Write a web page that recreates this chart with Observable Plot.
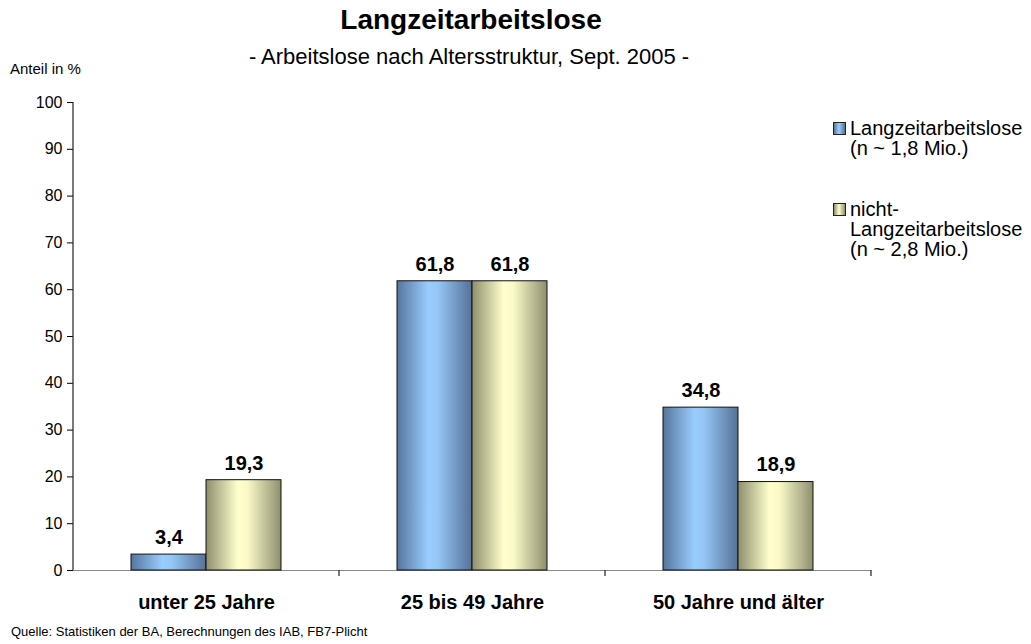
<!DOCTYPE html>
<html><head><meta charset="utf-8">
<script src="https://cdn.jsdelivr.net/npm/d3@7"></script>
<script src="https://cdn.jsdelivr.net/npm/@observablehq/plot@0.6"></script>
<style>
body{margin:0;background:#fff;font-family:"Liberation Sans",Arial,Helvetica,sans-serif;color:#000;}
#wrap{position:relative;width:1031px;height:644px;overflow:hidden;background:#fff;}
#wrap svg{position:absolute;left:0;top:0;}
.t{position:absolute;white-space:nowrap;line-height:1;}
.title{left:0;width:942px;text-align:center;top:6px;font-size:28px;font-weight:bold;}
.sub{left:0;width:938px;text-align:center;top:46px;font-size:22px;}
.ylab{left:10px;top:61px;font-size:15px;}
.cap{left:11px;top:625px;font-size:13px;}
.leg{position:absolute;left:850px;font-size:20px;line-height:20px;white-space:nowrap;}
.sw{position:absolute;width:11px;height:11px;border:1px solid #222;}
</style></head><body><div id="wrap"></div><script>
const categories = ["unter 25 Jahre", "25 bis 49 Jahre", "50 Jahre und älter"];
const seriesNames = ["Langzeitarbeitslose", "nicht-Langzeitarbeitslose"];
const valuesLang = [3.4, 61.8, 34.8];
const valuesNicht = [19.3, 61.8, 18.9];
const yTicks = [0, 10, 20, 30, 40, 50, 60, 70, 80, 90, 100];
const legendBlue = ["Langzeitarbeitslose", "(n ~ 1,8 Mio.)"];
const legendCream = ["nicht-", "Langzeitarbeitslose", "(n ~ 2,8 Mio.)"];
const titleText = "Langzeitarbeitslose";
const subtitleText = "- Arbeitslose nach Altersstruktur, Sept. 2005 -";
const yLabelText = "Anteil in %";
const captionText = "Quelle: Statistiken der BA, Berechnungen des IAB, FB7-Plicht";

const data = categories.flatMap((c, i) => [
  {cat: c, series: seriesNames[0], value: valuesLang[i]},
  {cat: c, series: seriesNames[1], value: valuesNicht[i]}
]);
const fmt = v => d3.format(".1f")(v).replace(".", ",");

const chart = Plot.plot({
  width: 1031, height: 644,
  marginLeft: 73, marginRight: 160, marginTop: 102, marginBottom: 74,
  style: {fontFamily: '"Liberation Sans", Arial, sans-serif', background: "transparent", color: "#000"},
  fx: {domain: categories, padding: 0, label: null},
  x: {domain: seriesNames, paddingInner: 0, paddingOuter: 0.76, axis: null},
  y: {domain: [0, 100], axis: null},
  color: {type: "ordinal", domain: seriesNames, range: ["url(#gBlue)", "url(#gCream)"]},
  marks: [
    Plot.axisY({ticks: yTicks, tickSize: 6, tickPadding: 5, fontSize: 16, label: null, anchor: "left"}),
    Plot.axisFx({tickSize: 0, tickPadding: 24, fontSize: 20, fontWeight: "bold", label: null, anchor: "bottom"}),
    Plot.ruleY([0], {stroke: "#8a8a8a", strokeWidth: 1.2}),
    Plot.barY(data, {fx: "cat", x: "series", y: "value", fill: "series", stroke: "#111", strokeWidth: 1}),
    Plot.text(data, {fx: "cat", x: "series", y: "value", text: d => fmt(d.value), dy: -17, fontSize: 20, fontWeight: "bold", fill: "#000"})
  ]
});

const svg = d3.select(chart);
const defs = svg.insert("defs", ":first-child");
function grad(id, stops) {
  const g = defs.append("linearGradient").attr("id", id).attr("x1", "0").attr("x2", "1").attr("y1", "0").attr("y2", "0");
  stops.forEach(([o, c]) => g.append("stop").attr("offset", o).attr("stop-color", c));
}
grad("gBlue", [[0, "#56759c"], [0.42, "#9acdff"], [0.55, "#94c5f5"], [1, "#567196"]]);
grad("gCream", [[0, "#8e8e6e"], [0.42, "#ffffcc"], [0.55, "#fafac8"], [1, "#8f8f70"]]);

const fx = chart.scale("fx"), y = chart.scale("y");
const y0 = y.apply(0), y100 = y.apply(100);
const xl = fx.apply(categories[0]);
svg.append("line").attr("x1", xl).attr("x2", xl).attr("y1", y100).attr("y2", y0).attr("stroke", "#222").attr("stroke-width", 1.2);
const bounds = categories.map(c => fx.apply(c)).concat([fx.apply(categories[categories.length - 1]) + fx.bandwidth]);
bounds.slice(1).forEach(b => {
  svg.append("line").attr("x1", b).attr("x2", b).attr("y1", y0).attr("y2", y0 + 6).attr("stroke", "#222").attr("stroke-width", 1.2);
});

const wrap = document.getElementById("wrap");
wrap.appendChild(chart);
function addText(cls, txt) { const d = document.createElement("div"); d.className = "t " + cls; d.textContent = txt; wrap.appendChild(d); }
addText("title", titleText);
addText("sub", subtitleText);
addText("ylab", yLabelText);
addText("cap", captionText);
function addLegend(lines, top, bg) {
  const sw = document.createElement("div"); sw.className = "sw";
  sw.style.left = "833px"; sw.style.top = (top + 4) + "px"; sw.style.background = bg;
  wrap.appendChild(sw);
  const d = document.createElement("div"); d.className = "leg"; d.style.top = top + "px";
  d.innerHTML = lines.map(l => l.replace(/&/g, "&amp;").replace(/</g, "&lt;")).join("<br>");
  wrap.appendChild(d);
}
addLegend(legendBlue, 118, "linear-gradient(90deg,#56759c,#9acdff 45%,#567196)");
addLegend(legendCream, 199, "linear-gradient(90deg,#8e8e6e,#ffffcc 45%,#8f8f70)");
</script></body></html>
